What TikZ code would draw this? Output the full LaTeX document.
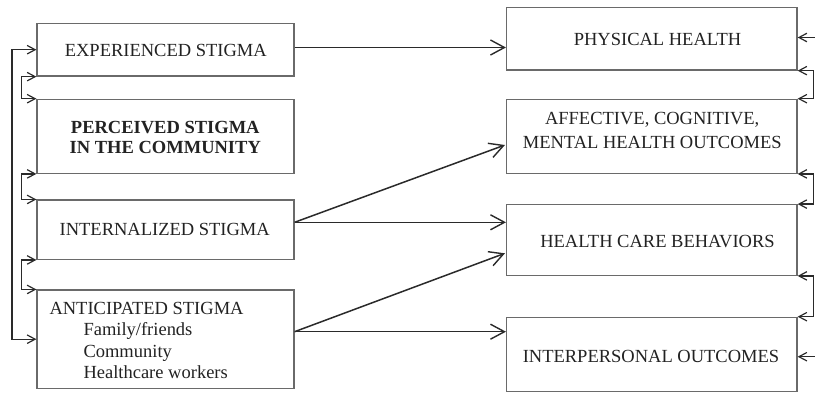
\documentclass[tikz,border=0pt]{standalone}
\usepackage{fontspec}
\setmainfont{Liberation Serif}
\usetikzlibrary{arrows.meta,calc}
\definecolor{boxline}{HTML}{6A6A6A}
\definecolor{conline}{HTML}{2A2A2A}
\definecolor{txtcol}{HTML}{222222}
\tikzset{
  box/.style={draw=boxline, line width=1.2pt, inner sep=0pt, fill=none},
  lbl/.style={text=txtcol, inner sep=0pt, font=\fontsize{18.5}{22}\selectfont, anchor=base},
  lblw/.style={lbl, anchor=base west},
  mainarrow/.style={draw=conline, line width=1.5pt, -{Straight Barb[length=14pt,width=15pt,line width=1.4pt]}},
  smallarrow/.style={draw=conline, line width=1.3pt, {Straight Barb[length=8pt,width=8.5pt,line width=1.2pt]}-{Straight Barb[length=8pt,width=8.5pt,line width=1.2pt]}},
  onearrow/.style={draw=conline, line width=1.3pt, -{Straight Barb[length=8pt,width=8.5pt,line width=1.2pt]}}
}
\begin{document}
\begin{tikzpicture}[x=1pt,y=-1pt]
\useasboundingbox (0,0) rectangle (815,394);
% left boxes
\node[box, minimum width=257pt, minimum height=52.7pt] (b1) at (165.5,49.7) {};
\node[box, minimum width=257pt, minimum height=74pt] (b2) at (165.5,136.3) {};
\node[box, minimum width=257pt, minimum height=59.3pt] (b3) at (165.5,229.7) {};
\node[box, minimum width=257pt, minimum height=98.3pt] (b4) at (165.5,339.2) {};
% right boxes
\node[box, minimum width=290.5pt, minimum height=62.7pt] (r1) at (651.8,38.7) {};
\node[box, minimum width=290.5pt, minimum height=74pt] (r2) at (651.8,136.3) {};
\node[box, minimum width=290.5pt, minimum height=70.6pt] (r3) at (651.8,240) {};
\node[box, minimum width=290.5pt, minimum height=74.4pt] (r4) at (651.8,354.5) {};
% texts
\node[lbl] (b1t) at (165.8,56.3) {EXPERIENCED STIGMA};
\node[lbl, font=\fontsize{18.5}{22}\selectfont\bfseries] (b2t1) at (165.3,133.2) {PERCEIVED STIGMA};
\node[lbl, font=\fontsize{18.5}{22}\selectfont\bfseries] (b2t2) at (165.3,153.8) {IN THE COMMUNITY};
\node[lbl] (b3t) at (164.7,235.6) {INTERNALIZED STIGMA};
\node[lblw] (b4t1) at (49.3,314) {ANTICIPATED STIGMA};
\node[lblw] (b4t2) at (83.3,335.5) {Family/friends};
\node[lblw] (b4t3) at (83.3,357) {Community};
\node[lblw] (b4t4) at (83.3,378.5) {Healthcare workers};
\node[lbl] (r1t) at (657.5,45) {PHYSICAL HEALTH};
\node[lbl] (r2t1) at (652.2,124) {AFFECTIVE, COGNITIVE,};
\node[lbl] (r2t2) at (652.3,148.3) {MENTAL HEALTH OUTCOMES};
\node[lbl] (r3t) at (657.5,247.3) {HEALTH CARE BEHAVIORS};
\node[lbl] (r4t) at (651,362.7) {INTERPERSONAL OUTCOMES};
% main arrows
\coordinate (s1) at ($(b1.east)+(0,-2.2)$);
\coordinate (s3) at ($(b3.east)+(0,-7.4)$);
\coordinate (s4) at ($(b4.east)+(0,-7.5)$);
\coordinate (t2) at ($(r2.west)+(-1,8.7)$);
\coordinate (t3) at ($(r3.west)+(-1,13.3)$);
\draw[mainarrow] (s1) -- (s1 -| r1.west);
\draw[mainarrow] (s3) -- (t2);
\draw[mainarrow] (s3) -- (s3 -| r3.west);
\draw[mainarrow] (s4) -- (t3);
\draw[mainarrow] (s4) -- (s4 -| r4.west);
% left connectors
\draw[smallarrow] (b1.west) -- ++(-24.5,0) |- (b4.west);
\draw[smallarrow] (b1.south west) -- ++(-15,0) |- (b2.north west);
\draw[smallarrow] (b2.south west) -- ++(-15,0) |- (b3.north west);
\draw[smallarrow] (b3.south west) -- ++(-15,0) |- (b4.north west);
% right connectors
\draw[smallarrow] (r1.south east) -- ++(16,0) |- (r2.north east);
\draw[smallarrow] (r2.south east) -- ++(16,0) |- (r3.north east);
\draw[smallarrow] (r3.south east) -- ++(16,0) |- (r4.north east);
\coordinate (e1) at (815,37.5);
\coordinate (e4) at (815,356.7);
\draw[onearrow] (e1) -- (e1 -| r1.east);
\draw[onearrow] (e4) -- (e4 -| r4.east);
\end{tikzpicture}
\end{document}
